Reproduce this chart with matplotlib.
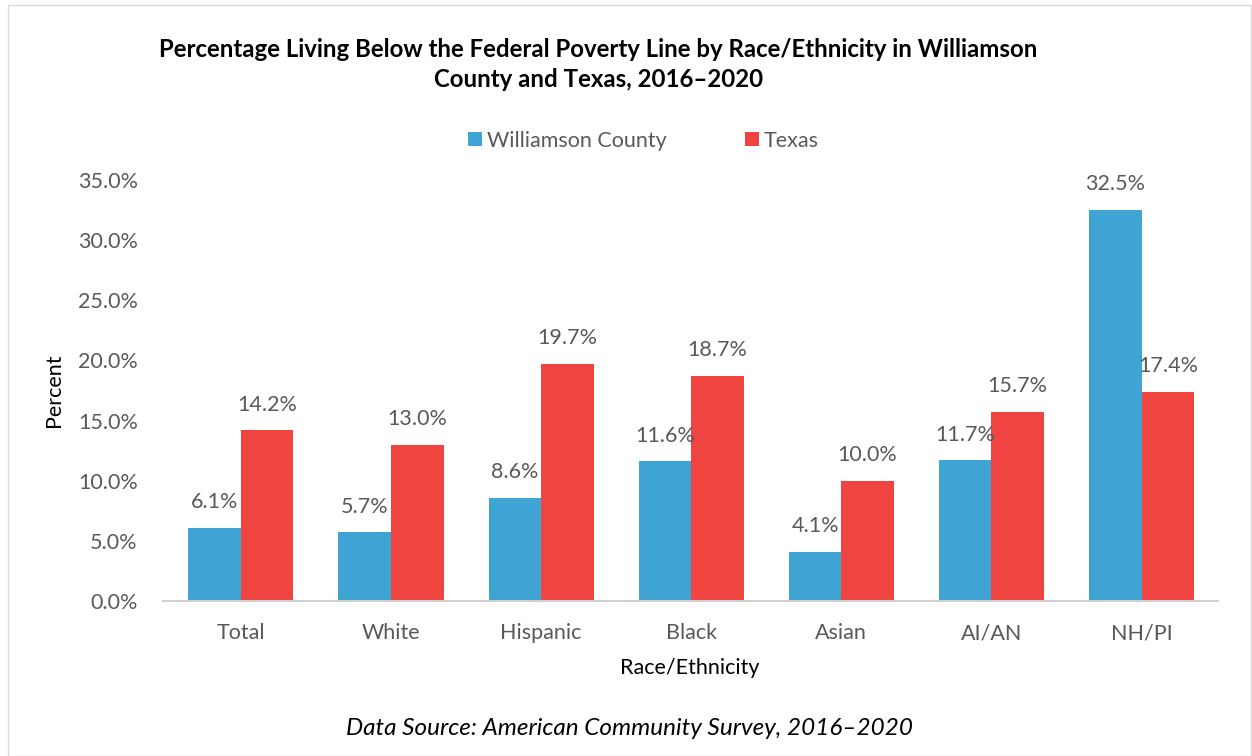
import numpy as np
import matplotlib.pyplot as plt
from matplotlib.patches import Rectangle

plt.rcParams['font.family'] = ['Lato', 'DejaVu Sans']

# data
categories = ['Total', 'White', 'Hispanic', 'Black', 'Asian', 'AI/AN', 'NH/PI']
williamson = [6.1, 5.7, 8.6, 11.6, 4.1, 11.7, 32.5]
texas = [14.2, 13.0, 19.7, 18.7, 10.0, 15.7, 17.4]
yticks = [0, 5, 10, 15, 20, 25, 30, 35]

blue = '#3FA3D3'
red = '#F04441'
grey = '#595959'
fs = 15.5

fig = plt.figure(figsize=(12.52, 7.56), dpi=100)
ax = fig.add_axes([0.130, 0.205, 0.843, 0.557])

x = np.arange(len(categories))
w = 0.35
b1 = ax.bar(x - w / 2, williamson, w, color=blue, label='Williamson County')
b2 = ax.bar(x + w / 2, texas, w, color=red, label='Texas')

for bars in (b1, b2):
    for r in bars:
        ax.text(r.get_x() + r.get_width() / 2, r.get_height() + 1.3,
                '%.1f%%' % r.get_height(), ha='center', va='bottom',
                fontsize=fs, color=grey)

ax.set_xlim(-0.52, 6.51)
ax.set_ylim(0, 35)
ax.set_yticks(yticks)
ax.set_yticklabels(['%.1f%%' % v for v in yticks])
ax.set_xticks(x)
ax.set_xticklabels(categories)
ax.tick_params(axis='both', length=0, labelsize=fs, colors=grey)
ax.tick_params(axis='y', pad=18)
ax.tick_params(axis='x', pad=16)

for s in ['top', 'right', 'left']:
    ax.spines[s].set_visible(False)
ax.spines['bottom'].set_color('#D0D0D0')
ax.spines['bottom'].set_linewidth(1.5)

ax.set_ylabel('Percent', fontsize=fs, color='black')
ax.yaxis.set_label_coords(-0.094, 0.5)
fig.text(0.551, 0.116, 'Race/Ethnicity', ha='center', va='center', fontsize=fs)

fig.text(0.478, 0.915, 'Percentage Living Below the Federal Poverty Line by Race/Ethnicity in Williamson\nCounty and Texas, 2016\u20132020',
         ha='center', va='center', fontsize=17.3, fontweight='bold', linespacing=1.35)

leg = fig.legend(loc='center', bbox_to_anchor=(0.514, 0.814), ncol=2, frameon=False,
                 fontsize=fs, handlelength=0.65, handleheight=0.65, columnspacing=3.6,
                 handletextpad=0.25)
for t in leg.get_texts():
    t.set_color(grey)

fig.text(0.503, 0.037, 'Data Source: American Community Survey, 2016\u20132020',
         ha='center', va='center', fontsize=17.5, style='italic')

fig.patches.append(Rectangle((0.006, 0.0), 0.993, 0.993, transform=fig.transFigure,
                             fill=False, edgecolor='#D9D9D9', linewidth=1))

fig.savefig('out.png', dpi=100)
